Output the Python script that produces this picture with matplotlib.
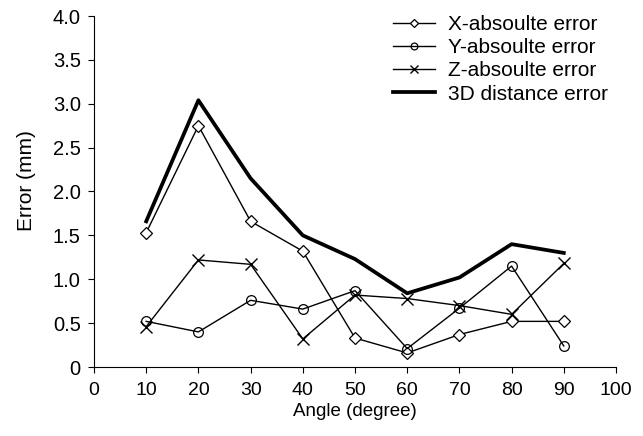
import matplotlib.pyplot as plt

plt.rcParams.update({'font.size': 14,
                     'font.family': 'Liberation Sans'})

angle = [10, 20, 30, 40, 50, 60, 70, 80, 90]
x_err = [1.53, 2.75, 1.66, 1.32, 0.33, 0.16, 0.37, 0.52, 0.52]
y_err = [0.52, 0.40, 0.76, 0.66, 0.87, 0.21, 0.67, 1.15, 0.24]
z_err = [0.46, 1.22, 1.17, 0.32, 0.82, 0.78, 0.70, 0.60, 1.18]
d_err = [1.66, 3.04, 2.15, 1.50, 1.23, 0.84, 1.02, 1.40, 1.30]

fig = plt.figure(figsize=(6.43, 4.36), dpi=100)
ax = fig.add_axes([94/643, 1 - 367/436, (616-94)/643, (367-16)/436])

ax.plot(angle, x_err, 'k-', marker='D', ms=6, mfc='white', mew=0.9, lw=1,
        label='X-absoulte error')
ax.plot(angle, y_err, 'k-', marker='o', ms=7, mfc='none', mew=0.9, lw=1,
        label='Y-absoulte error')
ax.plot(angle, z_err, 'k-', marker='x', ms=8, mew=1, lw=1,
        label='Z-absoulte error')
ax.plot(angle, d_err, 'k-', lw=2.7, label='3D distance error')

ax.set_xlim(0, 100)
ax.set_ylim(0, 4)
ax.set_xticks(range(0, 101, 10))
ax.set_yticks([i * 0.5 for i in range(9)])
ax.set_yticklabels(['0', '0.5', '1.0', '1.5', '2.0', '2.5', '3.0', '3.5', '4.0'])
ax.spines['top'].set_visible(False)
ax.spines['right'].set_visible(False)
ax.tick_params(direction='out', length=4.5)
ax.tick_params(axis='x', pad=6.5, labelsize=14)
ax.tick_params(axis='y', pad=5, labelsize=14.5)
ax.set_xlabel('Angle (degree)', fontsize=13.5)
ax.set_ylabel('Error (mm)', fontsize=15)
ax.xaxis.set_label_coords(0.5, -0.103)
ax.yaxis.set_label_coords(-0.111, 0.53)

leg = fig.legend(loc='upper left', bbox_to_anchor=(393/643, 1 - 15/436),
                 frameon=False, fontsize=15, handlelength=2.0,
                 handletextpad=0.65, markerscale=0.7, labelspacing=0.2,
                 borderpad=0, borderaxespad=0)

fig.savefig('out.png', dpi=100)
